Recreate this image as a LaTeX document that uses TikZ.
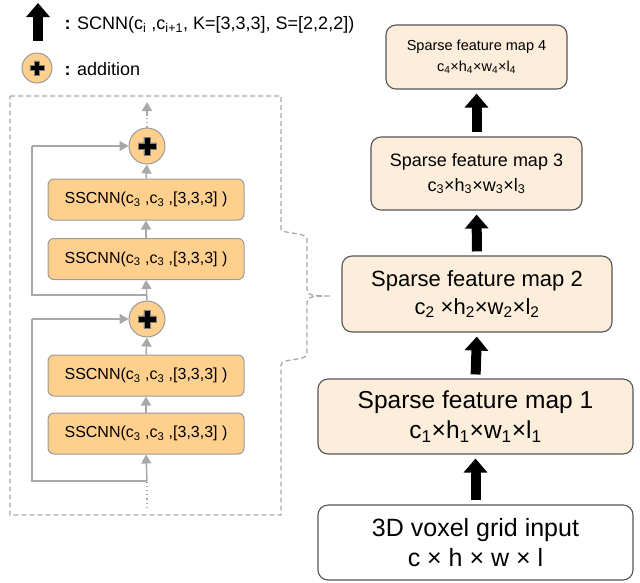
\documentclass[tikz,border=0pt]{standalone}
\usepackage{fontspec}
\setmainfont{Liberation Sans}
\usetikzlibrary{arrows.meta}

\definecolor{blockfill}{HTML}{FFCF8E}
\definecolor{blockline}{HTML}{9A9A9A}
\definecolor{mapfill}{HTML}{FDEEDC}
\definecolor{mapline}{HTML}{555555}
\definecolor{flowgray}{HTML}{A8A8A8}

\tikzset{
  sscnn/.style={draw=blockline, fill=blockfill, rounded corners=6pt, line width=1pt,
    minimum width=196pt, minimum height=41pt, inner sep=0pt,
    font=\fontsize{16}{19}\selectfont},
  addnode/.style={circle, draw=blockline, fill=blockfill, line width=1pt,
    minimum size=36pt, inner sep=0pt},
  fmap/.style={draw=mapline, fill=mapfill, rounded corners=10pt, line width=1.1pt,
    inner sep=0pt, align=center},
  flow/.style={draw=flowgray, line width=1.5pt, -{Triangle[width=10pt,length=9pt]}},
  skipline/.style={draw=flowgray, line width=1.5pt},
  dotline/.style={draw=flowgray, line width=1.2pt, dash pattern=on 1.2pt off 3pt},
  bigarrow/.style={black, line width=10pt, -{Triangle[width=23pt,length=14pt]},
    shorten <=4pt, shorten >=4pt},
  blockframe/.style={draw=flowgray, line width=1.3pt, dash pattern=on 5pt off 3pt},
  plussign/.pic={
    \filldraw[fill=black, draw=gray, line width=0.6pt]
      (-9,-3.2) -- (-3.2,-3.2) -- (-3.2,-9) -- (3.2,-9) -- (3.2,-3.2) -- (9,-3.2)
      -- (9,3.2) -- (3.2,3.2) -- (3.2,9) -- (-3.2,9) -- (-3.2,3.2) -- (-9,3.2) -- cycle;
  },
}

\begin{document}
\begin{tikzpicture}[x=1pt, y=-1pt]
\useasboundingbox (0,0) rectangle (640,582);

% ---- legend ----
\coordinate (legtail) at (38,41);
\coordinate (leghead) at (38,3);
\draw[bigarrow, shorten <=0pt, shorten >=0pt] (legtail) -- (leghead);
\node[anchor=base west, font=\fontsize{18}{21}\selectfont] (legconv) at (61,29)
  {\textbf{:} SCNN(c\textsubscript{i} ,c\textsubscript{i+1}, K=[3,3,3], S=[2,2,2])};
\node[addnode, minimum size=30pt] (legadd) at (37,68) {};
\pic[scale=0.8] at (legadd) {plussign};
\node[anchor=base west, font=\fontsize{18}{21}\selectfont] (legaddtext) at (61,75)
  {\textbf{:} addition};

% ---- residual block detail ----
\draw[blockframe]
  (10,96) -- (281,96) -- (281,229)
  .. controls (281,234) and (307,232) .. (307,239) -- (307,289)
  .. controls (307,295) and (310,296) .. (331,296)
  .. controls (310,296) and (307,297) .. (307,303) -- (307,354)
  .. controls (307,361) and (281,358) .. (281,365) -- (281,515)
  -- (10,515) -- cycle;

\node[sscnn] (s1) at (146,199.5) {SSCNN(c\textsubscript{3} ,c\textsubscript{3} ,[3,3,3] )};
\node[sscnn] (s2) at (146,259)   {SSCNN(c\textsubscript{3} ,c\textsubscript{3} ,[3,3,3] )};
\node[sscnn] (s3) at (146,375.5) {SSCNN(c\textsubscript{3} ,c\textsubscript{3} ,[3,3,3] )};
\node[sscnn] (s4) at (146,433.5) {SSCNN(c\textsubscript{3} ,c\textsubscript{3} ,[3,3,3] )};
\node[addnode] (addtop) at (147,146) {};
\node[addnode] (addlow) at (147,319) {};
\pic at (addtop) {plussign};
\pic at (addlow) {plussign};

\coordinate (outtop) at (147,102);
\coordinate (outdot) at (147,116);
\coordinate (indot) at (147,508);
\coordinate (inbranch) at (147,481);
\coordinate (midbranch) at (147,295);
\coordinate (skipA) at (32,295);
\coordinate (skipB) at (32,146);
\coordinate (skipC) at (32,481);
\coordinate (skipD) at (32,319);

\draw[dotline] (addtop.north) -- (outdot);
\draw[flow] (outdot) -- (outtop);
\draw[flow] (s1.north) -- (addtop.south);
\draw[flow] (s2.north) -- (s1.south);
\draw[flow] (addlow.north) -- (s2.south);
\draw[flow] (s3.north) -- (addlow.south);
\draw[flow] (s4.north) -- (s3.south);
\draw[flow] (inbranch) -- (s4.south);
\draw[dotline] (indot) -- (inbranch);
\draw[skipline] (midbranch) -- (skipA) -- (skipB);
\draw[flow] (skipB) -- (addtop.west);
\draw[skipline] (inbranch) -- (skipC) -- (skipD);
\draw[flow] (skipD) -- (addlow.west);

% ---- encoder stages ----
\node[fmap, minimum width=181pt, minimum height=64pt, font=\fontsize{14.5}{21}\selectfont]
  (m4) at (476.5,57)
  {Sparse feature map 4\\c\textsubscript{4}×h\textsubscript{4}×w\textsubscript{4}×l\textsubscript{4}};
\node[fmap, minimum width=211pt, minimum height=73pt, font=\fontsize{18}{25}\selectfont]
  (m3) at (476.5,173.5)
  {Sparse feature map 3\\c\textsubscript{3}×h\textsubscript{3}×w\textsubscript{3}×l\textsubscript{3}};
\node[fmap, minimum width=270pt, minimum height=76pt, font=\fontsize{22}{28}\selectfont]
  (m2) at (477,294)
  {Sparse feature map 2\\c\textsubscript{2} ×h\textsubscript{2}×w\textsubscript{2}×l\textsubscript{2}};
\node[fmap, minimum width=315pt, minimum height=75pt, font=\fontsize{24.5}{30}\selectfont]
  (m1) at (475.5,416.5)
  {Sparse feature map 1\\c\textsubscript{1}×h\textsubscript{1}×w\textsubscript{1}×l\textsubscript{1}};
\node[fmap, fill=white, minimum width=315pt, minimum height=75pt, font=\fontsize{25}{30}\selectfont]
  (vin) at (475.5,542.5)
  {3D voxel grid input\\c × h × w × l};

\draw[bigarrow] (vin.north) -- (m1.south);
\draw[bigarrow] (m1.north) -- (m2.south);
\draw[bigarrow] (m2.north) -- (m3.south);
\draw[bigarrow] (m3.north) -- (m4.south);
\end{tikzpicture}
\end{document}
